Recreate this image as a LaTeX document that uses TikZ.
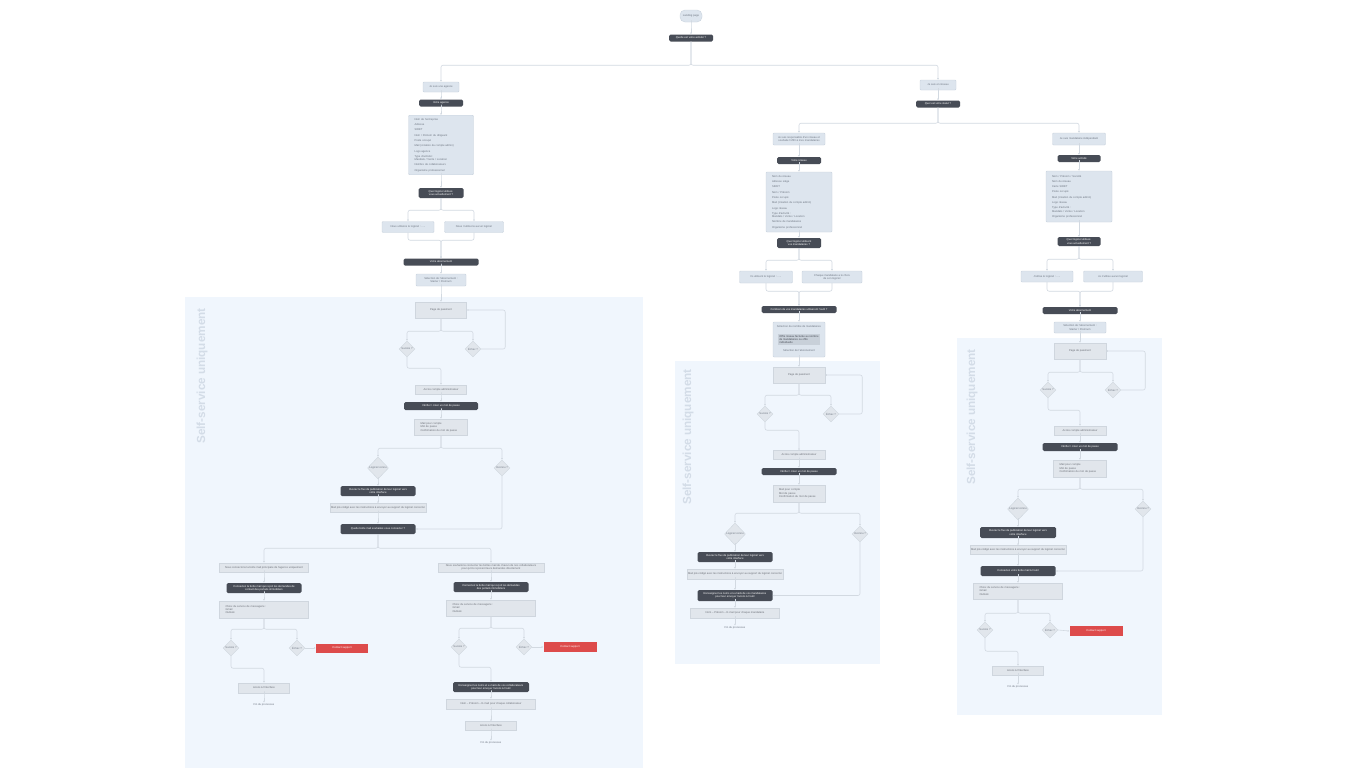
\documentclass[tikz,border=0pt]{standalone}
\usepackage{fontspec}
\setmainfont{Liberation Sans}
\usepackage{tikz}
\usetikzlibrary{shapes.geometric,arrows.meta}
\definecolor{boxfill}{HTML}{DDE5EE}
\definecolor{boxline}{HTML}{C9D3DE}
\definecolor{grayfill}{HTML}{E1E6EC}
\definecolor{grayline}{HTML}{CFD6DE}
\definecolor{darkfill}{HTML}{474C56}
\definecolor{linegray}{HTML}{D2D9E1}
\definecolor{panelfill}{HTML}{F0F6FD}
\definecolor{supred}{HTML}{DD4B4B}
\definecolor{txtgray}{HTML}{6E7682}
\definecolor{vtxt}{HTML}{D3DCE7}
\definecolor{innerfill}{HTML}{C8D0D9}
\tikzset{%
  tiny/.style={font=\fontsize{2.7}{3.3}\selectfont},
  lbox/.style={draw=boxline,fill=boxfill,rounded corners=1pt,text=txtgray,align=center,inner sep=1,line width=.4pt,tiny},
  gbox/.style={draw=grayline,fill=grayfill,text=darkfill!80,align=center,inner sep=1,line width=.4pt,tiny},
  itembox/.style={align=left,inner xsep=6,inner ysep=3},
  dbox/.style={fill=darkfill,rounded corners=1.5pt,text=white,align=center,inner sep=1,tiny},
  rbox/.style={fill=supred,text=white,align=center,inner sep=1,tiny},
  pill/.style={draw=boxline,fill=boxfill,rounded corners=5pt,text=txtgray,inner sep=1,tiny},
  dia/.style={shape=diamond,aspect=1,draw=grayline,fill=grayfill,inner sep=0,minimum width=16,minimum height=16,text=txtgray,tiny},
  bigdia/.style={dia,minimum width=21,minimum height=22},
  fin/.style={text=txtgray,inner sep=1,tiny},
  conn/.style={draw=linegray,line width=.6pt,rounded corners=2pt,-{Latex[length=1.6pt,width=1.8pt]}},
  panel/.style={fill=panelfill},
  vtext/.style={rotate=90,text=vtxt,font=\fontsize{11.7}{12}\selectfont\bfseries}
}

\begin{document}
\begin{tikzpicture}[x=1pt,y=-1pt]
  \fill[white] (0,0) rectangle (1362,782);
  \useasboundingbox (0,0) rectangle (1362,782);
  % self-service panels
  \fill[panel] (185,297) rectangle (643,768);
  \fill[panel] (675,361) rectangle (880,664);
  \fill[panel] (957,338) rectangle (1162,715);
  \path (202,376) node[vtext] (vtA) {Self-service uniquement}
        (688,437) node[vtext] (vtR) {Self-service uniquement}
        (972,417) node[vtext] (vtM) {Self-service uniquement};

  % start
  \path (691,16) node[pill,minimum width=22,minimum height=12] (start) {Landing page}
        (691,38) node[dbox,minimum width=44,minimum height=7] (activ) {Quelle est votre activité ?};

  % agence
  \path (441,87) node[lbox,minimum width=36,minimum height=10] (agence) {Je suis une agence}
        (441,103) node[dbox,minimum width=44,minimum height=7] (vagence) {Votre agence}
        (441,145) node[lbox,itembox,text width=53,minimum height=59] (listA)
          {Nom de l'entreprise\\[2pt] Adresse\\[2pt] SIRET\\[2pt] Nom / Prénom du dirigeant\\[2pt]
           Poste occupé\\[2pt] Mail (création du compte admin)\\[2pt] Logo agence\\[2pt]
           Type d'activité :\\ Mandats / Vente / Location\\[2pt] Nombre de collaborateurs\\[2pt]
           Organisme professionnel}
        (441,193) node[dbox,minimum width=45,minimum height=10] (qlogA) {Quel logiciel utilisez-\\vous actuellement ?}
        (408,227) node[lbox,minimum width=52,minimum height=11] (optA1) {Nous utilisons le logiciel : .....}
        (474,227) node[lbox,minimum width=59,minimum height=11] (optA2) {Nous n'utilisons aucun logiciel}
        (441,262) node[dbox,minimum width=75,minimum height=7] (aboA) {Votre abonnement}
        (441,280) node[lbox,minimum width=50,minimum height=12] (selA) {Sélection de l'abonnement :\\Starter / Premium};

  % agence, self-service
  \path (441,310) node[gbox,minimum width=51,minimum height=16] (payA) {Page de paiement}
        (407,349) node[dia] (sA) {Succès ?}
        (473,349) node[dia] (eA) {Échec ?}
        (441,389.5) node[gbox,minimum width=51,minimum height=9] (accA) {Accès compte administrateur}
        (441,406) node[dbox,minimum width=74,minimum height=8] (pwdA) {Vérifier / créer un mot de passe}
        (441,427) node[gbox,itembox,text width=41,minimum height=16] (infA) {Mail pour compte\\Mot de passe\\Confirmation du mot de passe}
        (378,468) node[bigdia] (lcA) {Logiciel connu}
        (502,468) node[dia] (incA) {Inconnu ?}
        (378,491) node[dbox,minimum width=75,minimum height=10] (fluxA) {Ouvrez le flux de publication de leur logiciel vers\\votre interface}
        (378,508) node[gbox,minimum width=88,minimum height=9] (mailA) {Mail pré-rédigé avec les instructions à envoyer au support du logiciel concerné}
        (378,529) node[dbox,minimum width=75,minimum height=10] (fourA) {Quelle boîte mail souhaitez-vous connecter ?}
        (264,567.5) node[gbox,minimum width=89,minimum height=9] (subA1) {Nous connectons la boîte mail principale de l'agence uniquement}
        (264,588) node[dbox,minimum width=75,minimum height=10] (conA1) {Connectez la boîte mail qui reçoit les demandes de\\contact des portails immobiliers}
        (264,609.5) node[gbox,itembox,text width=77,minimum height=17] (msgA1) {Choix du service de messagerie :\\Gmail\\Outlook}
        (231,648) node[dia] (sA1) {Succès ?}
        (297,648) node[dia] (eA1) {Échec ?}
        (342,648) node[rbox,minimum width=52,minimum height=9] (supA1) {Contact support}
        (264,688) node[gbox,minimum width=51,minimum height=10] (accA1) {Accès à l'interface}
        (264,705) node[fin] (finA1) {Fin du processus}
        (491,567.5) node[gbox,minimum width=106,minimum height=9] (subA2) {Nous souhaitons connecter les boîtes mail de chacun de nos collaborateurs\\pour qu'ils reçoivent leurs demandes directement}
        (491,587) node[dbox,minimum width=75,minimum height=10] (conA2) {Connectez la boîte mail qui reçoit les demandes\\des portails immobiliers}
        (491,608) node[gbox,itembox,text width=77,minimum height=16] (msgA2) {Choix du service de messagerie :\\Gmail\\Outlook}
        (459,647) node[dia] (sA2) {Succès ?}
        (524,647) node[dia] (eA2) {Échec ?}
        (570,647) node[rbox,minimum width=53,minimum height=10] (supA2) {Contact support}
        (491,687) node[dbox,minimum width=76,minimum height=10] (colA2) {Renseignez les noms et e-mails de vos collaborateurs\\pour leur envoyer l'accès à l'outil}
        (491,704) node[gbox,minimum width=89,minimum height=10] (nomA2) {Nom -- Prénom -- E-mail pour chaque collaborateur}
        (491,726) node[gbox,minimum width=51,minimum height=9] (accA2) {Accès à l'interface}
        (491,743) node[fin] (finA2) {Fin du processus};

  % reseau / mandataire
  \path (938,85) node[lbox,minimum width=36,minimum height=10] (enres) {Je suis en réseau}
        (938,104) node[dbox,minimum width=44,minimum height=7] (statut) {Quel est votre statut ?};

  % reseau
  \path (799,139) node[lbox,minimum width=52,minimum height=12] (reseau) {Je suis responsable d'un réseau et\\souhaite l'offrir à mes mandataires}
        (799,160.5) node[dbox,minimum width=44,minimum height=7] (vres) {Votre réseau}
        (799,202) node[lbox,itembox,text width=54,minimum height=60] (listR)
          {Nom du réseau\\[2pt] Adresse siège\\[2pt] SIRET\\[2pt] Nom / Prénom\\[2pt] Poste occupé\\[2pt]
           Mail (création du compte admin)\\[2pt] Logo réseau\\[2pt] Type d'activité :\\ Mandats / Vente / Location\\[2pt]
           Nombre de mandataires\\[2pt] Organisme professionnel}
        (799,243) node[dbox,minimum width=44,minimum height=10] (qlogR) {Quel logiciel utilisent\\vos mandataires ?}
        (766,277) node[lbox,minimum width=53,minimum height=12] (optR1) {Ils utilisent le logiciel : .....}
        (832,277) node[lbox,minimum width=60,minimum height=12] (optR2) {Chaque mandataire a le choix\\de son logiciel}
        (799,309.5) node[dbox,minimum width=75,minimum height=7] (combR) {Combien de vos mandataires utiliseront l'outil ?}
        (799,339.5) node[lbox,minimum width=52,minimum height=35] (selR) {}
        (799,327) node[fin] (selRt) {Sélection du nombre de mandataires}
        (799,339.5) node[fill=innerfill,text=darkfill,align=left,minimum width=42,minimum height=11,inner sep=1,tiny] (selRi) {Offre réseau facturée au nombre\\de mandataires ou offre\\individuelle}
        (799,351) node[fin] (selRb) {Sélection de l'abonnement};

  % reseau, self-service
  \path (799,375) node[gbox,minimum width=52,minimum height=16] (payR) {Page de paiement}
        (765,414) node[dia] (sR) {Succès ?}
        (831,414) node[dia] (eR) {Échec ?}
        (799,455) node[gbox,minimum width=52,minimum height=9] (accR) {Accès compte administrateur}
        (799,471.5) node[dbox,minimum width=75,minimum height=7] (pwdR) {Vérifier / créer un mot de passe}
        (799,493.5) node[gbox,itembox,text width=40,minimum height=17] (infR) {Mail pour compte\\Mot de passe\\Confirmation du mot de passe}
        (735,534) node[bigdia] (lcR) {Logiciel connu}
        (860,534) node[dia] (incR) {Inconnu ?}
        (735,557) node[dbox,minimum width=75,minimum height=10] (fluxR) {Ouvrez le flux de publication de leur logiciel vers\\votre interface}
        (735,574) node[gbox,minimum width=89,minimum height=10] (mailR) {Mail pré-rédigé avec les instructions à envoyer au support du logiciel concerné}
        (735,595.5) node[dbox,minimum width=75,minimum height=11] (colR) {Renseignez les noms et e-mails de vos mandataires\\pour leur envoyer l'accès à l'outil}
        (735,613) node[gbox,minimum width=89,minimum height=10] (nomR) {Nom -- Prénom -- E-mail pour chaque mandataire}
        (735,628) node[fin] (finR) {Fin du processus};

  % mandataire
  \path (1079,139) node[lbox,minimum width=53,minimum height=12] (mand) {Je suis mandataire indépendant}
        (1079,158.5) node[dbox,minimum width=43,minimum height=7] (vmand) {Votre activité}
        (1079,196.5) node[lbox,itembox,text width=54,minimum height=51] (listM)
          {Nom / Prénom / Société\\[2pt] Nom du réseau\\[2pt] Carte SIRET\\[2pt] Poste occupé\\[2pt]
           Mail (création du compte admin)\\[2pt] Logo réseau\\[2pt] Type d'activité :\\ Mandats / Vente / Location\\[2pt]
           Organisme professionnel}
        (1079,241.5) node[dbox,minimum width=43,minimum height=9] (qlogM) {Quel logiciel utilisez-\\vous actuellement ?}
        (1047,276.5) node[lbox,minimum width=52,minimum height=11] (optM1) {J'utilise le logiciel : .....}
        (1113,276.5) node[lbox,minimum width=59,minimum height=11] (optM2) {Je n'utilise aucun logiciel}
        (1080,310.5) node[dbox,minimum width=75,minimum height=7] (aboM) {Votre abonnement}
        (1080,327.5) node[lbox,minimum width=52,minimum height=11] (selM) {Sélection de l'abonnement :\\Starter / Premium};

  % mandataire, self-service
  \path (1080,351) node[gbox,minimum width=52,minimum height=16] (payM) {Page de paiement}
        (1048,390) node[dia] (sM) {Succès ?}
        (1113,390) node[dia] (eM) {Échec ?}
        (1080,430.5) node[gbox,minimum width=52,minimum height=9] (accM) {Accès compte administrateur}
        (1080,447) node[dbox,minimum width=75,minimum height=8] (pwdM) {Vérifier / créer un mot de passe}
        (1080,468.5) node[gbox,itembox,text width=41,minimum height=17] (infM) {Mail pour compte\\Mot de passe\\Confirmation du mot de passe}
        (1018,509) node[bigdia] (lcM) {Logiciel connu}
        (1143,509) node[dia] (incM) {Inconnu ?}
        (1018,532.5) node[dbox,minimum width=76,minimum height=11] (fluxM) {Ouvrez le flux de publication de leur logiciel vers\\votre interface}
        (1018,550) node[gbox,minimum width=89,minimum height=9] (mailM) {Mail pré-rédigé avec les instructions à envoyer au support du logiciel concerné}
        (1018,571) node[dbox,minimum width=75,minimum height=10] (conM) {Connectez votre boîte mail à l'outil}
        (1018,591) node[gbox,itembox,text width=77,minimum height=16] (msgM) {Choix du service de messagerie :\\Gmail\\Outlook}
        (985,630) node[dia] (sM2) {Succès ?}
        (1050,630) node[dia] (eM2) {Échec ?}
        (1096,631) node[rbox,minimum width=53,minimum height=10] (supM) {Contact support}
        (1018,670.5) node[gbox,minimum width=51,minimum height=9] (accM2) {Accès à l'interface}
        (1018,687) node[fin] (finM) {Fin du processus};

  % straight links
  \foreach \a/\b in {start/activ,agence/vagence,vagence/listA,listA/qlogA,aboA/selA,selA/payA,
      accA/pwdA,pwdA/infA,lcA/fluxA,fluxA/mailA,mailA/fourA,subA1/conA1,conA1/msgA1,accA1/finA1,
      subA2/conA2,conA2/msgA2,colA2/nomA2,nomA2/accA2,accA2/finA2,enres/statut,
      reseau/vres,vres/listR,listR/qlogR,combR/selR,selR/payR,accR/pwdR,pwdR/infR,
      lcR/fluxR,fluxR/mailR,mailR/colR,colR/nomR,nomR/finR,
      mand/vmand,vmand/listM,listM/qlogM,aboM/selM,selM/payM,accM/pwdM,pwdM/infM,
      lcM/fluxM,fluxM/mailM,mailM/conM,conM/msgM,accM2/finM}
    \draw[conn] (\a.south) -- (\a.south -| \b.north) -- (\b.north);

  % top split
  \draw[conn] (activ.south) -- ++(0,23.5) -| (agence.north);
  \draw[conn] (activ.south) -- ++(0,23.5) -| (enres.north);
  \draw[conn] (statut.south) -- ++(0,15.5) -| (reseau.north);
  \draw[conn] (statut.south) -- ++(0,15.5) -| (mand.north);

  % agence branches
  \draw[conn] (qlogA.south) -- ++(0,12) -| (optA1.north);
  \draw[conn] (qlogA.south) -- ++(0,12) -| (optA2.north);
  \draw[conn] (optA1.south) -- ++(0,7.5) -| (aboA.north);
  \draw[conn] (optA2.south) -- ++(0,7.5) -| (aboA.north);
  \draw[conn] (payA.south) -- ++(0,13) -| (sA.north);
  \draw[conn] (payA.south) -- ++(0,13) -| (eA.north);
  \draw[conn] (eA.east) -- ++(24,0) |- (payA.east);
  \draw[conn] (sA.south) -- ++(0,11) -| (accA.north);
  \draw[conn] (infA.south) -- ++(0,13) -| (lcA.north);
  \draw[conn] (infA.south) -- ++(0,13) -| (incA.north);
  \draw[conn] (incA.south) |- (fourA.east);
  \draw[conn] (fourA.south) -- ++(0,14) -| (subA1.north);
  \draw[conn] (fourA.south) -- ++(0,14) -| (subA2.north);
  \draw[conn] (msgA1.south) -- ++(0,11) -| (sA1.north);
  \draw[conn] (msgA1.south) -- ++(0,11) -| (eA1.north);
  \draw[conn] (eA1.east) -- (supA1.west);
  \draw[conn] (sA1.south) -- ++(0,12) -| (accA1.north);
  \draw[conn] (msgA2.south) -- ++(0,12) -| (sA2.north);
  \draw[conn] (msgA2.south) -- ++(0,12) -| (eA2.north);
  \draw[conn] (eA2.east) -- (supA2.west);
  \draw[conn] (sA2.south) -- ++(0,12) -| (colA2.north);

  % reseau branches
  \draw[conn] (qlogR.south) -- ++(0,12) -| (optR1.north);
  \draw[conn] (qlogR.south) -- ++(0,12) -| (optR2.north);
  \draw[conn] (optR1.south) -- ++(0,8) -| (combR.north);
  \draw[conn] (optR2.south) -- ++(0,8) -| (combR.north);
  \draw[conn] (payR.south) -- ++(0,12) -| (sR.north);
  \draw[conn] (payR.south) -- ++(0,12) -| (eR.north);
  \draw[conn] (eR.east) -- ++(23,0) |- (payR.east);
  \draw[conn] (sR.south) -- ++(0,8) -| (accR.north);
  \draw[conn] (infR.south) -- ++(0,11) -| (lcR.north);
  \draw[conn] (infR.south) -- ++(0,11) -| (incR.north);
  \draw[conn] (incR.south) |- (colR.east);

  % mandataire branches
  \draw[conn] (qlogM.south) -- ++(0,13) -| (optM1.north);
  \draw[conn] (qlogM.south) -- ++(0,13) -| (optM2.north);
  \draw[conn] (optM1.south) -- ++(0,9) -| (aboM.north);
  \draw[conn] (optM2.south) -- ++(0,9) -| (aboM.north);
  \draw[conn] (payM.south) -- ++(0,13) -| (sM.north);
  \draw[conn] (payM.south) -- ++(0,13) -| (eM.north);
  \draw[conn] (eM.east) -- ++(24,0) |- (payM.east);
  \draw[conn] (sM.south) -- ++(0,12) -| (accM.north);
  \draw[conn] (infM.south) -- ++(0,12) -| (lcM.north);
  \draw[conn] (infM.south) -- ++(0,12) -| (incM.north);
  \draw[conn] (incM.south) |- (conM.east);
  \draw[conn] (msgM.south) -- ++(0,14) -| (sM2.north);
  \draw[conn] (msgM.south) -- ++(0,14) -| (eM2.north);
  \draw[conn] (eM2.east) -- (supM.west);
  \draw[conn] (sM2.south) -- ++(0,13) -| (accM2.north);
\end{tikzpicture}
\end{document}
